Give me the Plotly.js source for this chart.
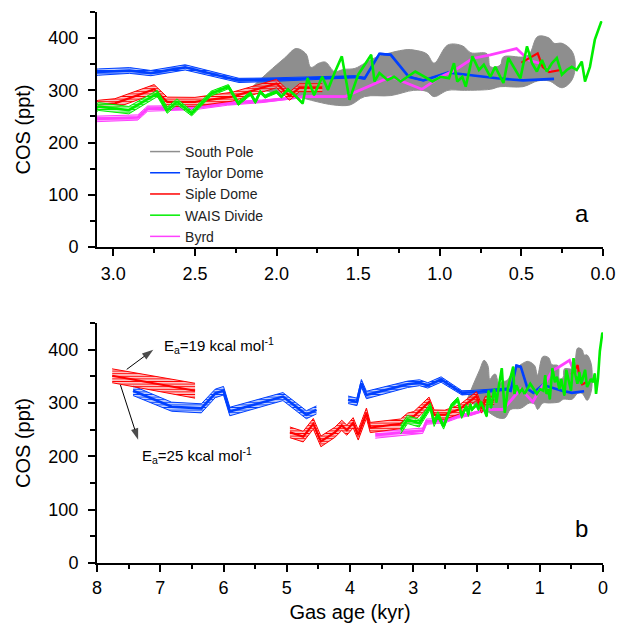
<!DOCTYPE html>
<html>
<head>
<meta charset="utf-8">
<script src="https://cdn.plot.ly/plotly-3.0.1.min.js"></script>
<style>html,body{margin:0;padding:0;background:#fff;}#chart{width:619px;height:627px;}</style>
</head>
<body>
<div id="chart"></div>
<script>
// ---------- DATA ----------
// Taylor Dome (blue): age (kyr), COS centre (ppt), spread between Ea=19 and Ea=25 curves (ppt)
const tdAge    = [7.43, 6.82, 6.35, 6.13, 6.0, 5.9, 5.06, 4.69, 4.53, null, 4.03, 3.89, 3.82, 3.74, 3.09, 2.9, 2.77, 2.56, 2.23, 2.07, 1.52, 1.46, 1.37, 1.30, 1.19, 1.10, 0.95, 0.65, 0.49, 0.30];
const tdCOS    = [323, 293, 290, 318, 323, 284, 312, 278, 287, null, 306, 302, 337, 315, 335, 338, 333, 344, 319, 320, 326, 323, 370, 368, 326, 319, 334, 323, 319, 322];
const tdSpread = [18, 17, 17, 16, 16, 16, 15, 15, 15, null, 14, 14, 14, 14, 12, 11, 10, 10, 8, 7, 4, 4, 3, 3, 2, 2, 1, 0, 0, 0];

// Siple Dome (red)
const sdAge    = [7.76, 6.45, null, 4.95, 4.74, 4.58, 4.46, 4.24, 4.13, 4.05, 3.95, 3.87, 3.74, 3.68, 3.2, 3.09, 2.99, 2.83, 2.75, 2.67, 2.50, 2.27, 2.09, 2.0, 1.92, 1.86, 1.72, null, 0.50, 0.40, 0.37, 0.33, 0.26];
const sdCOS    = [351, 323, null, 245, 237, 261, 228, 245, 258, 249, 263, 240, 281, 254, 261, 272, 275, 293, 302, 278, 278, 288, 304, 313, 289, 305, 305, null, 353, 371, 345, 335, 339];
const sdSpread = [26, 28, null, 20, 20, 20, 20, 19, 19, 19, 19, 19, 19, 19, 18, 18, 18, 18, 18, 18, 17, 17, 16, 16, 16, 15, 15, null, 0, 0, 0, 0, 0];

// WAIS Divide (green)
const wdAge = [3.2, 3.09, 2.905, 2.73, 2.67, 2.61, 2.52, 2.40, 2.295, 2.234,
               2.16, 2.13, 2.10, 2.07, 2.05, 2.0, 1.97, 1.93, 1.88, 1.84,
               1.81, 1.77, 1.72, 1.685, 1.645, 1.60, 1.553, 1.50, 1.46, 1.42,
               1.40, 1.37, 1.32, 1.28, 1.24, 1.18, 1.15, 1.10, 1.045, 0.994,
               0.943, 0.913, 0.893, 0.862, 0.841, 0.80, 0.76, 0.73, 0.69, 0.66,
               0.64, 0.61, 0.58, 0.547, 0.506, 0.466, 0.435, 0.405, 0.374, 0.344,
               0.313, 0.283, 0.252, 0.222, 0.191, 0.161, 0.13, 0.11, 0.08, 0.05,
               0.01];
const wdCOS = [250, 269, 262, 294, 262, 278, 256, 294, 307, 275,
               294, 278, 297, 288, 291, 297, 288, 302, 288, 275,
               323, 291, 326, 301, 333, 365, 282, 330, 349, 368,
               317, 333, 320, 326, 317, 330, 336, 327, 317, 326,
               323, 352, 317, 326, 307, 365, 339, 349, 326, 345,
               333, 314, 362, 345, 323, 384, 352, 336, 358, 336,
               352, 362, 330, 339, 345, 339, 355, 317, 345, 397,
               432];
const wdSpread = [16, 15, 14, 12, 12, 11, 10, 9, 8, 8,
                  7, 7, 6, 6, 6, 5, 5, 4, 4, 3,
                  3, 3, 2, 2, 1, 1, 0, 0, 0, 0,
                  0, 0, 0, 0, 0, 0, 0, 0, 0, 0,
                  0, 0, 0, 0, 0, 0, 0, 0, 0, 0,
                  0, 0, 0, 0, 0, 0, 0, 0, 0, 0,
                  0, 0, 0, 0, 0, 0, 0, 0, 0, 0,
                  0];

// Byrd (magenta)
const byAge    = [3.60, 2.85, 2.79, 2.50, 2.30, 2.09, 1.83, 1.58, 1.30, 1.11, 1.0, 0.91, 0.80, 0.69, 0.53, 0.455, 0.39, 0.32];
const byCOS    = [240, 248, 265, 267, 275, 279, 288, 288, 326, 302, 325, 338, 361, 368, 380, 358, 352, 336];
const bySpread = [12, 10, 10, 8, 7, 5, 3, 2, 0, 0, 0, 0, 0, 0, 0, 0, 0, 0];

// South Pole (grey envelope): upper and lower outline
const spUpAge = [2.15, 2.05, 1.95, 1.88, 1.82, 1.79, 1.74, 1.70, 1.645, 1.59, 1.52, 1.46, 1.40, 1.30, 1.20, 1.157, 1.08, 1.035, 0.95, 0.86, 0.81, 0.71, 0.69, 0.63, 0.61, 0.49, 0.45, 0.40, 0.33, 0.30, 0.25, 0.19, 0.17];
const spUpCOS = [306, 335, 362, 380, 370, 344, 352, 354, 336, 340, 342, 352, 362, 372, 378, 377, 370, 352, 387, 385, 372, 370, 345, 348, 364, 364, 370, 403, 400, 390, 390, 375, 350];
const spLoAge = [2.15, 2.05, 1.9, 1.75, 1.65, 1.55, 1.46, 1.3, 1.16, 1.08, 1.035, 0.95, 0.85, 0.69, 0.63, 0.49, 0.40, 0.33, 0.25, 0.19];
const spLoCOS = [304, 298, 290, 278, 272, 272, 288, 290, 300, 298, 288, 300, 300, 302, 307, 307, 318, 318, 305, 320];

const seriesNames = ['South Pole', 'Taylor Dome', 'Siple Dome', 'WAIS Divide', 'Byrd'];
const seriesColors = ['#8e8e8e', '#0040ff', '#ff0000', '#00ee00', '#ff40ff'];

// ---------- BUILD TRACES ----------
const FONT = 'Liberation Sans, Arial, Helvetica, sans-serif';
const traces = [];

function segments(age, cos, spr) {
  const segs = [];
  let cur = null;
  for (let i = 0; i < age.length; i++) {
    if (age[i] === null || cos[i] === null) { cur = null; continue; }
    if (!cur) { cur = {x: [], c: [], hi: [], lo: [], s: 0}; segs.push(cur); }
    cur.x.push(age[i]);
    cur.c.push(cos[i]);
    cur.hi.push(cos[i] + spr[i] / 2);
    cur.lo.push(cos[i] - spr[i] / 2);
    cur.s = Math.max(cur.s, spr[i]);
  }
  return segs;
}

function addBand(age, cos, spr, color, xa, ya, lw) {
  segments(age, cos, spr).forEach(seg => {
    if (seg.s > 0) {
      traces.push({
        type: 'scatter', mode: 'lines', xaxis: xa, yaxis: ya,
        x: seg.x.concat(seg.x.slice().reverse()),
        y: seg.hi.concat(seg.lo.slice().reverse()),
        fill: 'toself', fillcolor: 'rgba(255,255,255,0)',
        fillpattern: {shape: '-', size: 2.6, solidity: 0.5, fgcolor: color, bgcolor: 'rgba(255,255,255,0.6)', fillmode: 'replace'},
        line: {width: 0, color: color}, showlegend: false, hoverinfo: 'skip'
      });
      traces.push({type: 'scatter', mode: 'lines', xaxis: xa, yaxis: ya, x: seg.x, y: seg.hi,
        line: {color: color, width: 1}, showlegend: false, hoverinfo: 'skip'});
      traces.push({type: 'scatter', mode: 'lines', xaxis: xa, yaxis: ya, x: seg.x, y: seg.lo,
        line: {color: color, width: 1}, showlegend: false, hoverinfo: 'skip'});
    }
    traces.push({type: 'scatter', mode: 'lines', xaxis: xa, yaxis: ya, x: seg.x, y: seg.c,
      line: {color: color, width: lw}, showlegend: false, hoverinfo: 'skip'});
  });
}

[['x', 'y'], ['x2', 'y2']].forEach(([xa, ya]) => {
  // South Pole grey blob
  traces.push({
    type: 'scatter', mode: 'lines', xaxis: xa, yaxis: ya,
    x: spUpAge.concat(spLoAge.slice().reverse()),
    y: spUpCOS.concat(spLoCOS.slice().reverse()),
    fill: 'toself', fillcolor: seriesColors[0],
    line: {color: seriesColors[0], width: 1, shape: 'spline', smoothing: 1},
    showlegend: false, hoverinfo: 'skip'
  });
  addBand(tdAge, tdCOS, tdSpread, seriesColors[1], xa, ya, 2.6);
  addBand(byAge, byCOS, bySpread, seriesColors[4], xa, ya, 2.8);
  addBand(sdAge, sdCOS, sdSpread, seriesColors[2], xa, ya, 2.2);
  addBand(wdAge, wdCOS, wdSpread, seriesColors[3], xa, ya, 2.6);
});

// Ea arrows (tail at the band, head at the label)
[[[7.53, 7.11], [363, 400]], [[7.63, 7.35], [334, 231]]].forEach(([ax, ay]) => {
  traces.push({type: 'scatter', mode: 'lines+markers', xaxis: 'x2', yaxis: 'y2', x: ax, y: ay,
    line: {color: '#000', width: 1},
    marker: {symbol: ['circle', 'arrow'], size: [0, 12], color: '#000', angleref: 'previous', line: {width: 0}},
    showlegend: false, hoverinfo: 'skip', cliponaxis: false});
});

// legend entries
seriesNames.forEach((n, i) => {
  traces.push({type: 'scatter', mode: 'lines', x: [null], y: [null], xaxis: 'x', yaxis: 'y',
    name: n, line: {color: seriesColors[i], width: 1.5}, showlegend: true, hoverinfo: 'skip'});
});

const axisCommon = {
  showline: true, linecolor: '#000', linewidth: 2, mirror: false,
  ticks: 'outside', ticklen: 7, tickwidth: 2, tickcolor: '#000',
  showgrid: false, zeroline: false,
  tickfont: {family: FONT, size: 18, color: '#000'}
};

const layout = {
  width: 619, height: 627,
  margin: {l: 97, r: 16, t: 12, b: 64},
  paper_bgcolor: '#fff', plot_bgcolor: '#fff',
  font: {family: FONT, color: '#000'},
  showlegend: true,
  legend: {x: 0.095, y: 0.775, xanchor: 'left', yanchor: 'top',
           font: {family: FONT, size: 14, color: '#222'}, bgcolor: 'rgba(0,0,0,0)',
           tracegroupgap: 0},
  xaxis: Object.assign({}, axisCommon, {
    domain: [0, 1], anchor: 'y', range: [3.1, 0], tick0: 0, dtick: 0.5, tickformat: '.1f',
    minor: {dtick: 0.25, tick0: 0, ticks: 'outside', ticklen: 4, tickwidth: 2, tickcolor: '#000'},
    ticklabelstandoff: 2
  }),
  yaxis: Object.assign({}, axisCommon, {
    domain: [0.5735, 1], anchor: 'x', range: [0, 450], tick0: 0, dtick: 100,
    minor: {dtick: 50, tick0: 0, ticks: 'outside', ticklen: 5, tickwidth: 2, tickcolor: '#000'},
    ticklabelstandoff: 6,
    title: {text: 'COS (ppt)', font: {family: FONT, size: 20, color: '#000'}, standoff: 12}
  }),
  xaxis2: Object.assign({}, axisCommon, {
    domain: [0, 1], anchor: 'y2', range: [8, 0], tick0: 0, dtick: 1,
    minor: {dtick: 0.5, tick0: 0, ticks: 'outside', ticklen: 4, tickwidth: 2, tickcolor: '#000'},
    ticklabelstandoff: 0,
    title: {text: 'Gas age (kyr)', font: {family: FONT, size: 20, color: '#000'}, standoff: 8}
  }),
  yaxis2: Object.assign({}, axisCommon, {
    domain: [0, 0.4356], anchor: 'x2', range: [0, 450], tick0: 0, dtick: 100,
    minor: {dtick: 50, tick0: 0, ticks: 'outside', ticklen: 5, tickwidth: 2, tickcolor: '#000'},
    ticklabelstandoff: 6,
    title: {text: 'COS (ppt)', font: {family: FONT, size: 20, color: '#000'}, standoff: 12}
  }),
  annotations: [
    {xref: 'paper', yref: 'paper', x: 0.958, y: 0.635, text: 'a', showarrow: false,
     font: {family: FONT, size: 24, color: '#000'}, xanchor: 'center', yanchor: 'middle'},
    {xref: 'paper', yref: 'paper', x: 0.958, y: 0.0635, text: 'b', showarrow: false,
     font: {family: FONT, size: 24, color: '#000'}, xanchor: 'center', yanchor: 'middle'},
    {xref: 'x2', yref: 'y2', x: 6.98, y: 408, text: 'E<sub>a</sub>=19 kcal mol<sup>-1</sup>', showarrow: false,
     font: {family: FONT, size: 15, color: '#000'}, xanchor: 'left', yanchor: 'middle'},
    {xref: 'x2', yref: 'y2', x: 7.32, y: 202, text: 'E<sub>a</sub>=25 kcal mol<sup>-1</sup>', showarrow: false,
     font: {family: FONT, size: 15, color: '#000'}, xanchor: 'left', yanchor: 'middle'}
  ]
};

Plotly.newPlot('chart', traces, layout, {displayModeBar: false, staticPlot: true});
</script>
</body>
</html>
